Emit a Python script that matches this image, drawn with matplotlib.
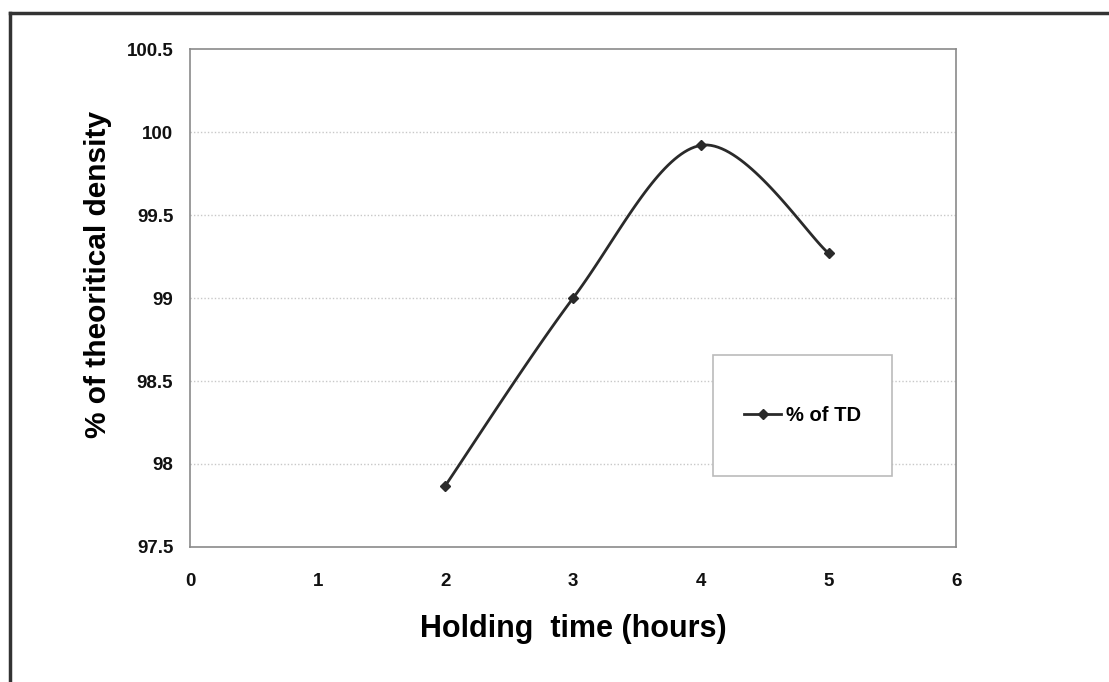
import numpy as np
import matplotlib.pyplot as plt
from matplotlib.lines import Line2D
from matplotlib.patches import Rectangle

plt.rcParams['font.family'] = ['Liberation Sans', 'DejaVu Sans']
plt.rcParams['font.weight'] = 'bold'

hours = [2, 3, 4, 5]
td_pct = [97.87, 99.0, 99.92, 99.27]
x_ticks = [0, 1, 2, 3, 4, 5, 6]
y_ticks = [97.5, 98, 98.5, 99, 99.5, 100, 100.5]


def smooth(x, y, n=40):
    # catmull-rom style bezier through the points (like a spreadsheet "smoothed line")
    x = np.asarray(x, float)
    y = np.asarray(y, float)
    px = np.concatenate([[x[0]], x, [x[-1]]])
    py = np.concatenate([[y[0]], y, [y[-1]]])
    xs, ys = [], []
    t = np.linspace(0, 1, n)
    for i in range(1, len(px) - 2):
        p0 = np.array([px[i], py[i]])
        p3 = np.array([px[i + 1], py[i + 1]])
        p1 = p0 + (np.array([px[i + 1], py[i + 1]]) - np.array([px[i - 1], py[i - 1]])) / 6
        p2 = p3 - (np.array([px[i + 2], py[i + 2]]) - np.array([px[i], py[i]])) / 6
        b = ((1 - t) ** 3)[:, None] * p0 + (3 * (1 - t) ** 2 * t)[:, None] * p1 \
            + (3 * (1 - t) * t ** 2)[:, None] * p2 + (t ** 3)[:, None] * p3
        xs.append(b[:, 0])
        ys.append(b[:, 1])
    return np.concatenate(xs), np.concatenate(ys)


fig = plt.figure(figsize=(11.09, 6.82), dpi=100)
ax = fig.add_axes([0.1713, 0.198, 0.691, 0.730])

for v in y_ticks[1:-1]:
    ax.axhline(v, color='#c8c8c8', lw=1.0, ls=(0, (1, 1.5)), zorder=1)

sx, sy = smooth(hours, td_pct)
ax.plot(sx, sy, color='#2a2a2a', lw=2.0, zorder=3)
ax.plot(hours, td_pct, ls='none', marker='D', ms=5, color='#2a2a2a', zorder=4)

ax.set_xlim(0, 6)
ax.set_ylim(97.5, 100.5)
ax.set_xticks(x_ticks)
ax.set_yticks(y_ticks)
ax.set_xticklabels([str(v) for v in x_ticks])
ax.set_yticklabels(['97.5', '98', '98.5', '99', '99.5', '100', '100.5'])
ax.tick_params(length=0, labelsize=13.5, colors='#111111')
ax.tick_params(axis='x', pad=19)
ax.tick_params(axis='y', pad=12)
for s in ax.spines.values():
    s.set_color('#8a8a8a')
    s.set_linewidth(1.2)

ax.set_xlabel('Holding  time (hours)', fontsize=22, fontweight='bold', labelpad=17)
ax.set_ylabel('% of theoritical density', fontsize=21.5, fontweight='bold')
ax.yaxis.set_label_coords(-0.102, 0.548)

# legend box
ax.add_patch(Rectangle((0.683, 0.1426), 0.233, 0.243, transform=ax.transAxes,
                       facecolor='white', edgecolor='#bbbbbb', lw=1.2, zorder=5))
handle = Line2D([], [], color='#2a2a2a', lw=2.0, marker='D', ms=5)
leg = ax.legend([handle], ['% of TD'], loc='center',
                bbox_to_anchor=(0.683 + 0.233 / 2, 0.1426 + 0.243 / 2),
                frameon=False, fontsize=14.5, handlelength=1.8, handletextpad=0.25)
leg.set_zorder(6)
for txt in leg.get_texts():
    txt.set_fontweight('bold')

# page border (left and top)
fig.add_artist(Line2D([10 / 1109, 10 / 1109], [0, 1 - 13 / 682],
                      transform=fig.transFigure, color='#333333', lw=2.5))
fig.add_artist(Line2D([10 / 1109, 1], [1 - 13 / 682, 1 - 13 / 682],
                      transform=fig.transFigure, color='#333333', lw=2.5))

fig.savefig('out.png', dpi=100)
